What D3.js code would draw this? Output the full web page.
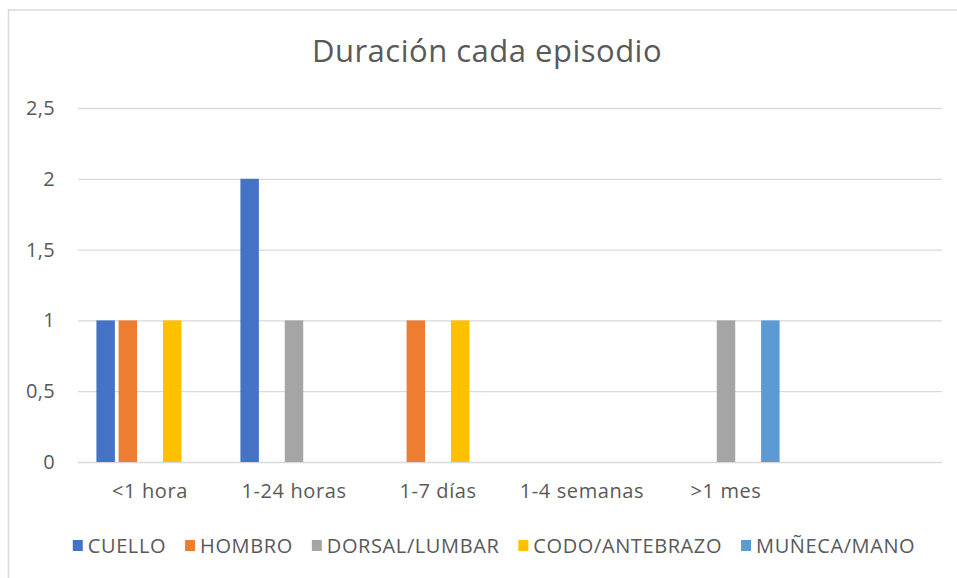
<!DOCTYPE html>
<html lang="es">
<head>
  <meta charset="UTF-8">
  <title>Duración cada episodio</title>
  <script src="https://d3js.org/d3.v7.min.js"></script>
  <style>
    body {
      margin: 0;
      background: #ffffff;
      font-family: 'Open Sans', sans-serif;
    }
    svg { display: block; }
    .tick text { fill: #595959; }
  </style>
</head>
<body>
<svg width="957" height="578"></svg>

<script>
// datos
const categorias = ["<1 hora", "1-24 horas", "1-7 días", "1-4 semanas", ">1 mes", ""];
const series = ["CUELLO", "HOMBRO", "DORSAL/LUMBAR", "CODO/ANTEBRAZO", "MUÑECA/MANO"];
const cuello   = [1, 2, 0, 0, 0, null];
const hombro   = [1, 0, 1, 0, 0, null];
const dorsal   = [0, 1, 0, 0, 1, null];
const codo     = [1, 0, 1, 0, 0, null];
const muneca   = [0, 0, 0, 0, 1, null];
const yTicks = [0, 0.5, 1, 1.5, 2, 2.5];
const colores = ["#4472C4", "#ED7D31", "#A5A5A5", "#FFC000", "#5B9BD5"];

const valores = [cuello, hombro, dorsal, codo, muneca];

const svg = d3.select("svg");
const plotLeft = 78, plotRight = 942, plotTop = 108, plotBottom = 462;

const es = d3.formatLocale({ decimal: ",", thousands: ".", grouping: [3], currency: ["", " €"] });

// borde del gráfico
svg.append("rect")
  .attr("x", 8.5).attr("y", 10)
  .attr("width", 980).attr("height", 600)
  .attr("fill", "none")
  .attr("stroke", "#d9d9d9")
  .attr("stroke-width", 1.5);

svg.append("text")
  .attr("x", 487)
  .attr("y", 62)
  .attr("text-anchor", "middle")
  .attr("fill", "#595959")
  .style("font-size", "31px")
  .style("letter-spacing", "0.5px")
  .text("Duración cada episodio");

const x0 = d3.scaleBand()
  .domain(categorias)
  .range([plotLeft, plotRight])
  .paddingInner(0.23)
  .paddingOuter(0.115);

const x1 = d3.scaleBand()
  .domain(series)
  .range([0, x0.bandwidth()])
  .paddingInner(0.167)
  .paddingOuter(0.0835);

const y = d3.scaleLinear()
  .domain([0, 2.5])
  .range([plotBottom, plotTop]);

// eje y con líneas de cuadrícula
const yAxis = svg.append("g")
  .attr("transform", `translate(${plotLeft},0)`)
  .call(d3.axisLeft(y)
    .tickValues(yTicks)
    .tickSize(-(plotRight - plotLeft))
    .tickPadding(23)
    .tickFormat(es.format("~g")));
yAxis.select(".domain").remove();
yAxis.selectAll(".tick line").attr("stroke", "#d9d9d9").attr("stroke-width", 1.3);
yAxis.selectAll(".tick text")
  .style("font-size", "20px")
  .style("letter-spacing", "0.3px")
  .attr("font-family", "'Open Sans', sans-serif");

// barras
const datos = [];
categorias.forEach((c, i) => {
  series.forEach((s, j) => {
    if (valores[j][i]) datos.push({ cat: c, serie: s, valor: valores[j][i], color: colores[j] });
  });
});

svg.append("g")
  .selectAll("rect")
  .data(datos)
  .join("rect")
  .attr("x", d => x0(d.cat) + x1(d.serie))
  .attr("y", d => y(d.valor))
  .attr("width", x1.bandwidth())
  .attr("height", d => y(0) - y(d.valor))
  .attr("fill", d => d.color);

// eje x
const xAxis = svg.append("g")
  .attr("transform", `translate(0,${plotBottom})`)
  .call(d3.axisBottom(x0).tickSize(0).tickPadding(22));
xAxis.select(".domain").remove();
xAxis.selectAll(".tick text")
  .style("font-size", "20px")
  .style("letter-spacing", "0.6px")
  .attr("font-family", "'Open Sans', sans-serif");

// leyenda
const leyenda = svg.append("g").attr("transform", "translate(0,553)");
const items = leyenda.selectAll("g")
  .data(series)
  .join("g");

items.append("rect")
  .attr("y", -13)
  .attr("width", 10)
  .attr("height", 11)
  .attr("fill", (d, i) => colores[i]);

items.append("text")
  .attr("x", 15)
  .attr("fill", "#595959")
  .style("font-size", "20px")
  .style("letter-spacing", "0.6px")
  .text(d => d);

let pos = 0;
const anchos = [];
items.each(function() {
  const w = 15 + this.querySelector("text").getComputedTextLength();
  anchos.push(pos);
  pos += w + 19;
});
const inicio = 494 - (pos - 19) / 2;
items.attr("transform", (d, i) => `translate(${inicio + anchos[i]},0)`);
</script>
</body>
</html>
